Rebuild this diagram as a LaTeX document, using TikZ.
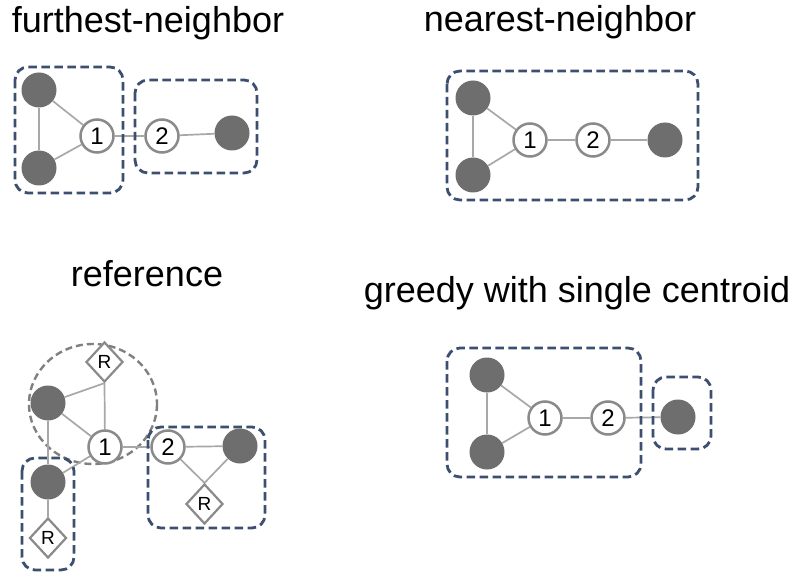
\documentclass[tikz,border=0pt]{standalone}
\usepackage{fontspec}
\setmainfont{Liberation Sans}
\usetikzlibrary{shapes.geometric,backgrounds}
\definecolor{fillg}{HTML}{6E6E6E}
\definecolor{edgeg}{HTML}{A8A8A8}
\definecolor{ringg}{HTML}{8A8A8A}
\definecolor{boxb}{HTML}{3D4F70}
\definecolor{ballg}{HTML}{808080}
\begin{document}
\begin{tikzpicture}[x=1pt,y=-1pt,
 full/.style={circle,fill=fillg,minimum size=35pt,inner sep=0pt},
 num/.style={circle,draw=ringg,line width=2.5pt,fill=white,minimum size=33pt,inner sep=0pt,font=\fontsize{24}{24}\selectfont},
 rep/.style={diamond,draw=ringg,line width=2.2pt,fill=white,minimum width=37pt,minimum height=40pt,inner sep=0pt,font=\fontsize{19}{19}\selectfont},
 link/.style={draw=edgeg,line width=1.7pt},
 grp/.style={draw=boxb,line width=2.8pt,dash pattern=on 8.5pt off 4.5pt,rounded corners=13pt},
 ball/.style={draw=ballg,line width=2.4pt,dash pattern=on 7pt off 4pt},
 title/.style={anchor=base,font=\fontsize{36}{36}\selectfont}]
\useasboundingbox (0,0) rectangle (800,585);

% titles
\node[title] (t1) at (148,33) {furthest-neighbor};
\node[title] (t2) at (560,32) {nearest-neighbor};
\node[title] (t3) at (147,287) {reference};
\node[title] (t4) at (577,302) {greedy with single centroid};

% panel 1: furthest-neighbor
\node[full] (a1) at (39,90) {};
\node[full] (a2) at (39,168) {};
\node[num] (a3) at (97,136) {1};
\node[num] (a4) at (162,136) {2};
\node[full] (a5) at (232,133) {};

% panel 2: nearest-neighbor
\node[full] (b1) at (473,98) {};
\node[full] (b2) at (473,175) {};
\node[num] (b3) at (530,140) {1};
\node[num] (b4) at (593,140) {2};
\node[full] (b5) at (665,140) {};

% panel 3: reference
\node[rep] (c1) at (104.5,362) {R};
\node[full] (c2) at (48,403) {};
\node[num] (c3) at (105,447) {1};
\node[full] (c4) at (48,482) {};
\node[rep] (c5) at (48,538) {R};
\node[num] (c6) at (168,447) {2};
\node[full] (c7) at (240,446) {};
\node[rep] (c8) at (204.5,504) {R};

% panel 4: greedy
\node[full] (d1) at (487,375) {};
\node[full] (d2) at (487,452) {};
\node[num] (d3) at (545,418) {1};
\node[num] (d4) at (608,418) {2};
\node[full] (d5) at (678,417) {};

\begin{pgfonlayer}{background}
\fill[white] (0,0) rectangle (800,585);
\draw[ball] (93,404) ellipse [x radius=64, y radius=60];
% edges
\draw[link] (a1) -- (a2);
\draw[link] (a1) -- (a3);
\draw[link] (a2) -- (a3);
\draw[link] (a3) -- (a4);
\draw[link] (a4) -- (a5);
\draw[link] (b1) -- (b2);
\draw[link] (b1) -- (b3);
\draw[link] (b2) -- (b3);
\draw[link] (b3) -- (b4);
\draw[link] (b4) -- (b5);
\draw[link] (c2) -- (c1.south);
\draw[link] (c1.south) -- (c3);
\draw[link] (c2) -- (c3);
\draw[link] (c2) -- (c4);
\draw[link] (c4) -- (c3);
\draw[link] (c4) -- (c5);
\draw[link] (c3) -- (c6);
\draw[link] (c6) -- (c7);
\draw[link] (c6) -- (c8.north);
\draw[link] (c7) -- (c8.north);
\draw[link] (d1) -- (d2);
\draw[link] (d1) -- (d3);
\draw[link] (d2) -- (d3);
\draw[link] (d3) -- (d4);
\draw[link] (d4) -- (d5);
% groups
\draw[grp] (15,67) rectangle (123,193);
\draw[grp] (135,80) rectangle (257,173);
\draw[grp] (447,71) rectangle (698,200);
\draw[grp] (22,458) rectangle (74,570);
\draw[grp] (148,427) rectangle (265,528);
\draw[grp] (447,348) rectangle (641,477);
\draw[grp] (653,377) rectangle (711,449);
\end{pgfonlayer}
\end{tikzpicture}
\end{document}
